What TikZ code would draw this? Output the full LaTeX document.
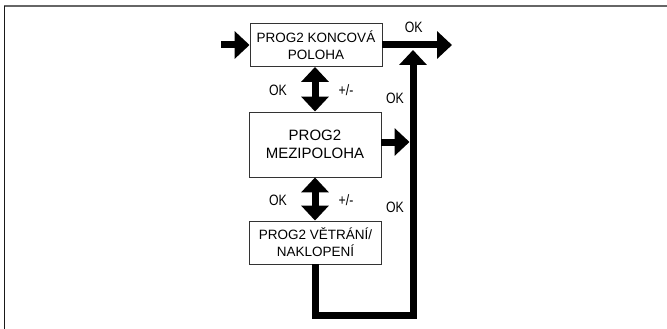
\documentclass[tikz,border=0pt]{standalone}
\usepackage{fontspec}
\setmainfont{Liberation Sans}
\usetikzlibrary{arrows.meta}

\tikzset{
	casella/.style={draw=black!80, line width=0.9pt, fill=white, align=center, minimum width=132pt, inner sep=0pt},
	freccia/.style={line width=7pt, line join=miter, -{Triangle[width=27pt,length=15pt]}},
	doppia/.style={line width=7pt, {Triangle[width=27pt,length=15pt]}-{Triangle[width=27pt,length=15pt]}},
	etichetta/.style={font=\fontsize{15}{15}\selectfont, xscale=0.82}
}

\begin{document}
\begin{tikzpicture}[x=1pt, y=-1pt]
		% cornice
		\useasboundingbox (0,0) rectangle (667,329);
		\draw[color=black!60, line width=2pt] (4,6.5) -- (667,6.5);
		\draw[color=black!90, line width=1.5pt] (4.5,6) -- (4.5,329);
		
		% caselle
		\node[casella, minimum height=43pt, font=\fontsize{13.5}{17}\selectfont] (koncova) at (316,45) {PROG2 KONCOVÁ\\POLOHA};
		\node[casella, minimum height=65pt, font=\fontsize{15}{18}\selectfont] (mezipoloha) at (315,144.5) {PROG2\\MEZIPOLOHA};
		\node[casella, minimum height=43pt, font=\fontsize{13.5}{17}\selectfont] (vetrani) at (315.5,242.5) {PROG2 VĚTRÁNÍ/\\NAKLOPENÍ};
		
		% punti liberi
		\coordinate (ingresso) at (221,45);
		\coordinate (uscita) at (452,45);
		\coordinate (angolo1) at (315,315);
		\coordinate (angolo2) at (413,315);
		\coordinate (innesto) at (413,50);
		
		% frecce
		\draw[freccia] (ingresso) -- (koncova.west);
		\draw[freccia] (koncova.east) -- (uscita) node[etichetta, pos=0.45, above=6pt] {OK};
		\draw[doppia] (koncova.south -| mezipoloha.north) -- (mezipoloha.north);
		\draw[doppia] (mezipoloha.south) -- (vetrani.north -| mezipoloha.south);
		\draw[freccia] ([yshift=2.5pt]mezipoloha.east) -- ([yshift=2.5pt, xshift=-3.5pt]mezipoloha.east -| innesto);
		\draw[freccia] (vetrani.south -| angolo1) -- (angolo1) -- (angolo2) -- (innesto);
		
		% etichette
		\node[etichetta] (ok1) at (278,90) {OK};
		\node[etichetta] (pm1) at (346,90) {+/-};
		\node[etichetta] (ok2) at (395,98) {OK};
		\node[etichetta] (ok3) at (278,200) {OK};
		\node[etichetta] (pm2) at (346,200) {+/-};
		\node[etichetta] (ok4) at (395,207) {OK};
	\end{tikzpicture}
\end{document}
